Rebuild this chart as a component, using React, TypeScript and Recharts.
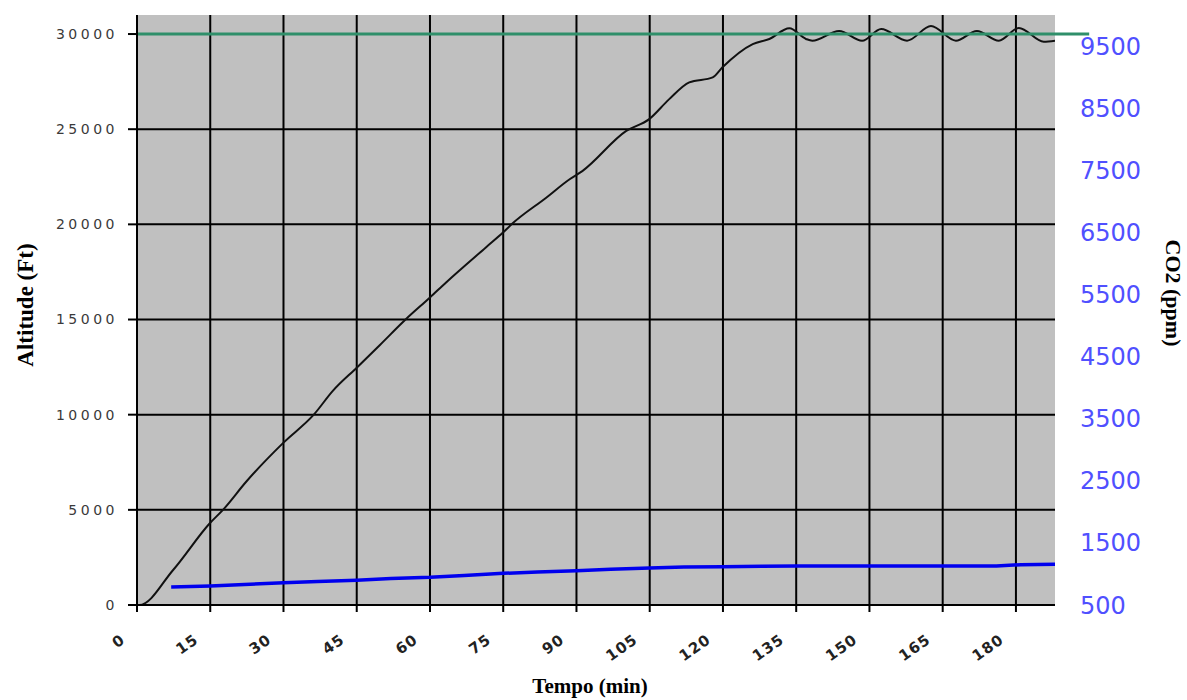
import { LineChart, Line, XAxis, YAxis, ReferenceArea, ReferenceLine } from 'recharts';

// tempo (min) e altitude (ft)
const altTime = [0, 0.5, 7.4, 15, 17.6, 22.4, 30, 36.2, 40.1, 45, 49.7, 55, 60, 63.3, 71.5, 75, 76.7, 83.8, 88.6, 91.2, 100.2, 104.9, 109, 113.1, 117.9, 119.9, 126.1, 129.5, 133.6, 137, 138.3, 143.8, 148.5, 152.4, 157.7, 162.6, 167.7, 172, 176.5, 180.6, 185.7, 188];
const altValue = [0, 0, 1840, 4320, 5000, 6490, 8530, 10000, 11250, 12470, 13650, 15000, 16160, 16950, 18800, 19580, 20000, 21400, 22370, 22800, 24910, 25530, 26580, 27460, 27720, 28250, 29470, 29740, 30300, 29740, 29650, 30160, 29650, 30260, 29650, 30420, 29650, 30160, 29650, 30320, 29600, 29650];

// CO2 (ppm)
const co2Time = [7, 15, 22, 30, 37, 45, 52, 60, 67, 75, 82, 90, 97, 105, 112, 120, 128, 135, 150, 165, 176, 181, 188];
const co2Value = [790, 806, 830, 860, 880, 900, 925, 945, 975, 1010, 1030, 1050, 1075, 1095, 1110, 1115, 1125, 1128, 1128, 1128, 1128, 1150, 1155];

const xTicks = [0, 15, 30, 45, 60, 75, 90, 105, 120, 135, 150, 165, 180];
const altTicks = [0, 5000, 10000, 15000, 20000, 25000, 30000];
const co2Ticks = [500, 1500, 2500, 3500, 4500, 5500, 6500, 7500, 8500, 9500];
const xDomain = [0, 188];
const altDomain = [0, 31000];

const altData = altTime.map((t, i) => ({ t, alt: altValue[i] }));
const co2Data = co2Time.map((t, i) => ({ t, co2: co2Value[i] }));

const XTick = ({ x, y, payload }: any) => (
  <g transform={`translate(${x - 11},${y + 30})`}>
    <text textAnchor="end" transform="rotate(-35)" fill="#222" fontSize={15} fontWeight="bold"
      fontFamily="DejaVu Sans" letterSpacing={1}>
      {payload.value}
    </text>
  </g>
);

const title: React.CSSProperties = {
  position: 'absolute',
  fontFamily: '"Liberation Serif", serif',
  fontWeight: 'bold',
  fontSize: 23,
  lineHeight: 1,
  color: '#000',
  whiteSpace: 'nowrap',
};

export default function App() {
  return (
    <div style={{ position: 'absolute', left: 0, top: 0, width: 1187, height: 700, background: '#fff' }}>
      <LineChart width={1187} height={700} margin={{ top: 15, right: 32, bottom: 35, left: 37 }}>
        <ReferenceArea yAxisId="left" x1={xDomain[0]} x2={xDomain[1]} y1={altDomain[0]} y2={altDomain[1]}
          fill="#c0c0c0" fillOpacity={1} stroke="none" strokeWidth={0} />
        {altTicks.map((v) => (
          <ReferenceLine key={`h${v}`} yAxisId="left" y={v} stroke="#000" strokeWidth={2} />
        ))}
        {xTicks.map((v) => (
          <ReferenceLine key={`v${v}`} yAxisId="left" x={v} stroke="#000" strokeWidth={2} />
        ))}
        <XAxis dataKey="t" type="number" domain={xDomain} ticks={xTicks} allowDataOverflow height={60}
          tick={<XTick />} tickSize={7} tickMargin={0} interval={0}
          axisLine={{ stroke: '#000', strokeWidth: 2 }} tickLine={{ stroke: '#000', strokeWidth: 2 }} />
        <YAxis yAxisId="left" type="number" domain={altDomain} ticks={altTicks} width={100} interval={0}
          tickSize={9} tickMargin={10}
          tick={{ fill: '#3a3a3a', fontSize: 14, fontFamily: 'DejaVu Sans', letterSpacing: 3.5 }}
          axisLine={{ stroke: '#000', strokeWidth: 2 }} tickLine={{ stroke: '#000', strokeWidth: 2 }} />
        <YAxis yAxisId="right" orientation="right" type="number" domain={[500, 10000]} ticks={co2Ticks}
          width={100} interval={0} tickSize={0} tickMargin={25} axisLine={false} tickLine={false}
          tick={{ fill: '#5050ff', fontSize: 24, fontFamily: 'DejaVu Sans' }} />
        <Line yAxisId="right" data={co2Data} dataKey="co2" type="linear" stroke="#0000ee" strokeWidth={3.5}
          dot={false} isAnimationActive={false} />
        <Line yAxisId="left" data={altData} dataKey="alt" type="monotone" stroke="#111" strokeWidth={2}
          dot={false} isAnimationActive={false} />
        <ReferenceLine yAxisId="left" segment={[{ x: 0, y: 30000 }, { x: 195, y: 30000 }]} ifOverflow="visible"
          stroke="#2f8f6a" strokeWidth={3} />
      </LineChart>
      <div style={{ ...title, left: 25, top: 305, transform: 'translate(-50%,-50%) rotate(-90deg)' }}>Altitude (Ft)</div>
      <div style={{ ...title, left: 1173, top: 293, fontSize: 22, transform: 'translate(-50%,-50%) rotate(90deg)' }}>CO2 (ppm)</div>
      <div style={{ ...title, left: 590, top: 686, fontSize: 21, transform: 'translate(-50%,-50%)' }}>Tempo (min)</div>
    </div>
  );
}
